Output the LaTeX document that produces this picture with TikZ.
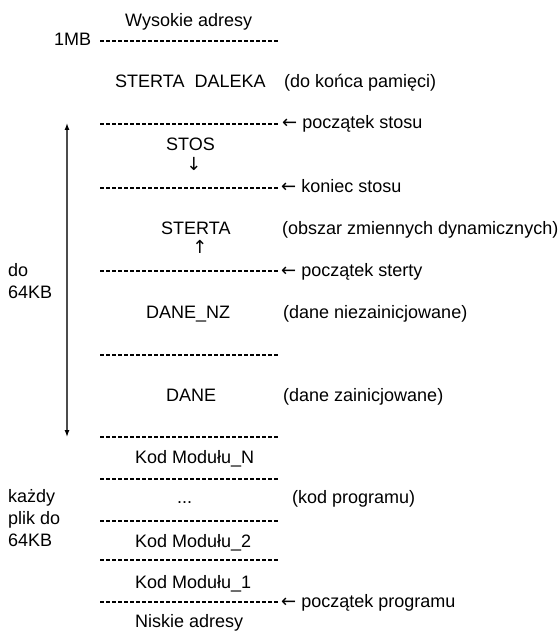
\documentclass[tikz,border=0pt]{standalone}
\usepackage{fontspec}
\setmainfont{Liberation Sans}
\newfontfamily\arrowfont{DejaVu Sans}
\usetikzlibrary{arrows.meta}

\begin{document}
\begin{tikzpicture}[x=1pt, y=-1pt,
    every node/.style={inner sep=0pt, font=\fontsize{18}{22}\selectfont, anchor=base west},
    sep/.style={line width=1.1pt, dash pattern=on 4pt off 2pt},
    span/.style={line width=1.3pt, gray!60!black, {Latex[length=7pt,width=5pt,black]}-{Latex[length=7pt,width=5pt,black]}}]
\useasboundingbox (0,0) rectangle (559,631);
% separator lines
\foreach \n/\y in {mb/41, ps/124, ks/188, pst/271, dnz/355, dz/437, kn/479, kd/521, kt/560, pp/602} {
    \coordinate (\n w) at (100,\y);
    \coordinate (\n e) at (278,\y);
    \draw[sep] (\n w) -- (\n e);
}
% addresses
\node (high) at (125,27) {Wysokie adresy};
\node (onemb) at (54,46) {1MB};
\node (low) at (135,627) {Niskie adresy};
% segments
\node (far) at (115,88) {STERTA\ \ DALEKA};
\node (farc) at (284,88) {(do końca pamięci)};
\node (stack) at (166,150) {STOS};
\node[anchor=center] (down) at (194,164) {\arrowfont ↓};
\node (heap) at (161,234) {STERTA};
\node (heapc) at (282,234) {(obszar zmiennych dynamicznych)};
\node[anchor=center] (up) at (200,247) {\arrowfont ↑};
\node (bss) at (146,318) {DANE\_NZ};
\node (bssc) at (283,318) {(dane niezainicjowane)};
\node (data) at (166,401) {DANE};
\node (datac) at (283,401) {(dane zainicjowane)};
\node (modn) at (135,463) {Kod Modułu\_N};
\node (dots) at (177,503) {...};
\node (codec) at (292,503) {(kod programu)};
\node (modb) at (135,547) {Kod Modułu\_2};
\node (moda) at (135,588) {Kod Modułu\_1};
% pointers
\node (sbeg) at (282,129) {{\arrowfont ←} początek stosu};
\node (send) at (281,193) {{\arrowfont ←} koniec stosu};
\node (hbeg) at (281,276) {{\arrowfont ←} początek sterty};
\node (pbeg) at (281,607) {{\arrowfont ←} początek programu};
% sizes
\node[align=left] (seg) at (8,298) {do\\64KB};
\node[align=left] (file) at (8,546) {każdy\\plik do\\64KB};
\coordinate (top) at (67,123);
\coordinate (bot) at (67,437);
\draw[span] (bot) -- (top);
\end{tikzpicture}
\end{document}
